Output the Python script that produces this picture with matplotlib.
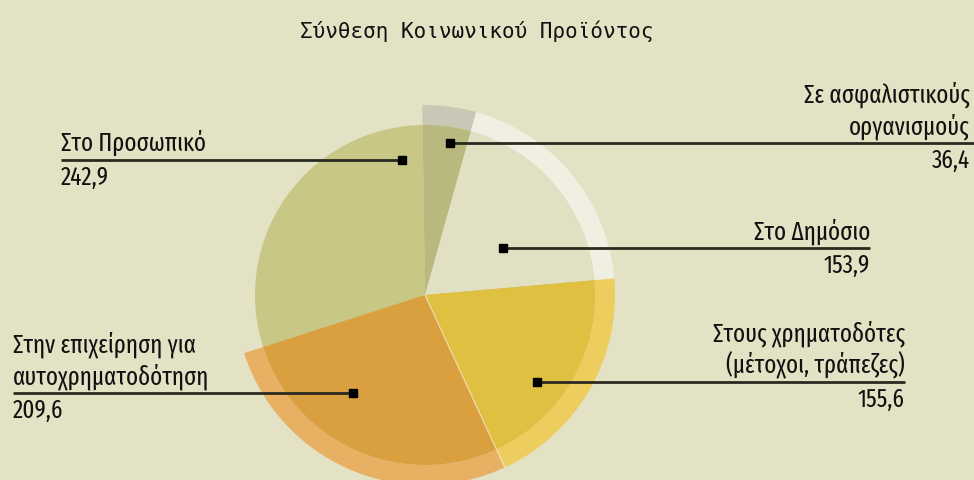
import numpy as np
import matplotlib
matplotlib.use("Agg")
import matplotlib.pyplot as plt
from matplotlib.patches import Wedge

# ---- data ----
categories = ["Σε ασφαλιστικούς\nοργανισμούς", "Στο Δημόσιο",
              "Στους χρηματοδότες\n(μέτοχοι, τράπεζες)",
              "Στην επιχείρηση για\nαυτοχρηματοδότηση", "Στο Προσωπικό"]
values = [36.4, 153.9, 155.6, 209.6, 242.9]
value_labels = ["36,4", "153,9", "155,6", "209,6", "242,9"]
title = "Σύνθεση Κοινωνικού Προϊόντος"

# ---- style ----
BG = "#e3e2c4"
inner_colors = ["#b9b87f", "#e1e0c3", "#dfc040", "#daa040", "#c9c786"]
ring_colors = ["#c9c7b6", "#f0efe1", "#eecd5f", "#e7b063", None]
label_font = ["Fira Sans Extra Condensed", "DejaVu Sans"]

W, H = 974, 480
fig = plt.figure(figsize=(W / 100, H / 100), dpi=100, facecolor=BG)
ax = fig.add_axes([0, 0, 1, 1])
ax.set_xlim(0, W)
ax.set_ylim(0, H)
ax.axis("off")
ax.set_facecolor(BG)

def Y(y):
    return H - y

cx, cy = 425, Y(295)
r_in, r_out = 170, 190
start = 90.8

total = sum(values)
angles = []
a = start
for v in values:
    span = v / total * 360
    angles.append((a - span, a))
    a -= span

order = [4, 0, 1, 2, 3]
for i in order:
    t1, t2 = angles[i]
    if i == 4:
        t2 = 90
    if i == 3:
        t1 -= 2.5
    if ring_colors[i] is not None:
        ax.add_patch(Wedge((cx, cy), r_out, t1, t2, width=r_out - r_in,
                           facecolor=ring_colors[i], edgecolor="none"))
    ax.add_patch(Wedge((cx, cy), r_in, t1, t2, facecolor=inner_colors[i],
                       edgecolor="none"))

t = np.deg2rad(angles[2][0])
ax.plot([cx, cx + r_out * np.cos(t)], [cy, cy + r_out * np.sin(t)],
        color="#f3ecd0", lw=0.8, alpha=0.8)

# ---- labels layout: (anchor angle deg, anchor radius, line y, line end x, text x, align) ----
layout = [
    (80.7, 154, 143, 974, 970, "right"),
    (31.0, 91, 248, 870, 870, "right"),
    (-37.8, 142, 382, 905, 905, "right"),
    (-126.0, 122, 393, 13, 13, "left"),
    (99.7, 137, 160, 61, 61, "left"),
]

fs = 18
for i, (ang, rr, ly, lx, tx, ha) in enumerate(layout):
    th = np.deg2rad(ang)
    px = cx + rr * np.cos(th)
    py = Y(ly)
    ax.plot([px, lx], [py, py], color="#2a2a20", lw=2, solid_capstyle="butt")
    ax.plot([px], [py], marker="s", ms=6, color="black")
    lines = categories[i].split("\n")
    n = len(lines)
    for k, line in enumerate(lines):
        base = ly - 9 - (n - 1 - k) * 32
        ax.text(tx, Y(base), line, ha=ha, va="baseline", fontsize=fs,
                family=label_font, color="#111111")
    ax.text(tx, Y(ly + 25), value_labels[i], ha=ha, va="baseline",
            fontsize=fs, family=label_font, color="#111111")

ax.text(477, Y(31), title, ha="center", va="center", fontsize=15,
        family=["DejaVu Sans Mono"], color="#111111")

fig.savefig("out.png", dpi=100, facecolor=BG)
